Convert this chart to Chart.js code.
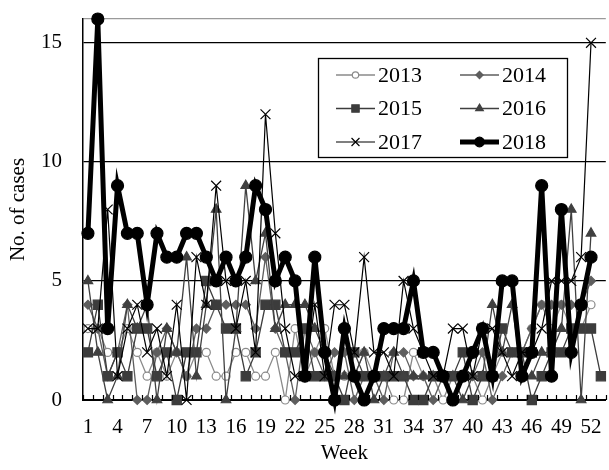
<!DOCTYPE html>
<html>
<head>
<meta charset="utf-8">
<script src="https://cdn.jsdelivr.net/npm/chart.js@4/dist/chart.umd.min.js"></script>
<style>
  html, body { margin: 0; padding: 0; background: #fff; overflow: hidden; }
  #wrap { position: relative; width: 614px; height: 470px; }
</style>
</head>
<body>
<div id="wrap"><canvas id="cases"></canvas></div>
<script>
// weekly case counts, 2013–2018

const weeks = ['1','2','3','4','5','6','7','8','9','10','11','12','13','14','15','16','17','18',
  '19','20','21','22','23','24','25','26','27','28','29','30','31','32','33','34','35','36',
  '37','38','39','40','41','42','43','44','45','46','47','48','49','50','51','52','53'];
const weekTicks = ['1','4','7','10','13','16','19','22','25','28','31','34','37','40','43','46','49','52'];
const yTicks = [0, 5, 10, 15];
const yMax = 16;

const cases2013 = [3,3,2,2,3,2,1,2,1,2,1,2,2,1,1,2,2,1,1,2,0,3,1,2,3,1,1,1,2,1,1,0,0,2,1,1,0,1,1,1,0,1,2,2,2,3,4,3,4,3,3,4,null];
const cases2014 = [4,3,1,2,4,0,0,2,3,2,1,3,3,4,4,4,4,3,6,3,2,0,3,2,1,2,2,0,1,1,0,2,2,1,1,0,1,0,1,1,2,0,1,2,2,3,4,4,4,4,4,5,null];
const cases2015 = [2,4,1,2,1,3,3,1,2,0,2,2,5,4,3,3,1,2,4,4,2,2,3,1,1,1,0,2,1,1,1,1,1,0,0,1,1,1,2,0,1,1,3,2,2,0,1,2,2,3,3,3,1];
const cases2016 = [5,2,0,1,4,3,4,0,3,2,6,1,4,8,0,3,9,5,7,3,4,4,4,3,2,1,1,1,2,0,1,2,1,1,1,1,1,1,0,1,1,4,2,4,1,1,2,2,3,8,0,7,null];
const cases2017 = [3,3,8,1,3,4,2,3,1,4,0,6,4,9,5,3,5,2,12,7,3,1,1,4,1,4,4,2,6,2,2,1,5,3,2,1,1,3,3,1,3,3,2,1,2,2,3,5,5,5,6,15,null];
const cases2018 = [7,16,3,9,7,7,4,7,6,6,7,7,6,5,6,5,6,9,8,5,6,5,1,6,2,0,3,1,0,1,3,3,3,5,2,2,1,0,1,2,3,1,5,5,1,2,9,1,8,2,4,6,null];

const FONT = '"Liberation Serif", "Times New Roman", serif';

const series = [
  { label:'2013', data:cases2013, color:'#8a8a8a', fill:'#ffffff', style:'circle',    r:4,   lw:1.3, order:6 },
  { label:'2014', data:cases2014, color:'#5e5e5e', fill:'#5e5e5e', style:'rectRot',   r:4.5, lw:1.3, order:5 },
  { label:'2015', data:cases2015, color:'#3c3c3c', fill:'#3c3c3c', style:'rect',      r:6.5, lw:1.3, order:4 },
  { label:'2016', data:cases2016, color:'#404040', fill:'#404040', style:'triangle',  r:5.5, lw:1.3, order:3 },
  { label:'2017', data:cases2017, color:'#000000', fill:'#000000', style:'crossRot',  r:7,   lw:1.2, order:2 },
  { label:'2018', data:cases2018, color:'#000000', fill:'#000000', style:'circle',    r:6,   lw:5,   order:1 }
];

// Excel-style tick marks pointing up into the plot, at category boundaries
const innerTicks = {
  id: 'innerTicks',
  afterDraw(chart) {
    const { ctx, chartArea: a } = chart;
    const n = weeks.length, step = a.width / n;
    ctx.save();
    ctx.strokeStyle = '#000';
    ctx.lineWidth = 1.2;
    ctx.beginPath();
    for (let i = 0; i <= n; i++) {
      const x = Math.round(a.left + i * step) + 0.5;
      ctx.moveTo(x, a.bottom);
      ctx.lineTo(x, a.bottom - 5);
    }
    ctx.stroke();
    ctx.restore();
  }
};

// boxed two-column legend inside the plot
const boxLegend = {
  id: 'boxLegend',
  afterDraw(chart) {
    const { ctx, chartArea: a } = chart;
    const x0 = a.left + 235, y0 = a.top + 39, w = 249, h = 99;
    ctx.save();
    ctx.fillStyle = '#fff';
    ctx.fillRect(x0, y0, w, h);
    ctx.strokeStyle = '#000';
    ctx.lineWidth = 1.3;
    ctx.strokeRect(x0 + 0.5, y0 + 0.5, w, h);
    series.forEach((s, i) => {
      const col = i % 2, row = Math.floor(i / 2);
      const lx = x0 + 18 + col * 124, ly = y0 + 17 + row * 33.5;
      ctx.strokeStyle = s.color;
      ctx.lineWidth = s.lw;
      ctx.beginPath();
      ctx.moveTo(lx, ly);
      ctx.lineTo(lx + 39, ly);
      ctx.stroke();
      ctx.fillStyle = s.fill;
      ctx.strokeStyle = s.color;
      ctx.lineWidth = 1.2;
      if (Chart.helpers && Chart.helpers.drawPoint) {
        Chart.helpers.drawPoint(ctx, { pointStyle: s.style, radius: s.r * 0.8, rotation: 0, borderWidth: 1.2 }, lx + 19.5, ly);
      }
      ctx.fillStyle = '#000';
      ctx.font = '22px ' + FONT;
      ctx.textBaseline = 'middle';
      ctx.textAlign = 'left';
      ctx.fillText(s.label, lx + 42, ly + 1);
    });
    ctx.restore();
  }
};

new Chart(document.getElementById('cases'), {
  type: 'line',
  data: {
    labels: weeks,
    datasets: series.map(s => ({
      label: s.label,
      data: s.data,
      order: s.order,
      borderColor: s.color,
      backgroundColor: s.fill,
      borderWidth: s.lw,
      pointStyle: s.style,
      pointRadius: s.r,
      pointBackgroundColor: s.fill,
      pointBorderColor: s.color,
      pointBorderWidth: 1.2,
      tension: 0,
      spanGaps: false,
      clip: false
    }))
  },
  options: {
    responsive: true,
    maintainAspectRatio: false,
    animation: false,
    devicePixelRatio: 1,
    layout: { padding: { top: 19, right: 0, left: 0, bottom: 0 } },
    plugins: {
      legend: { display: false },
      tooltip: { enabled: false }
    },
    scales: {
      x: {
        offset: true,
        afterFit: s => { s.height = 70; s.paddingLeft = 0; s.paddingRight = 0; },
        grid: { display: true, drawOnChartArea: false, drawTicks: false },
        border: { display: true, color: '#000', width: 2 },
        ticks: {
          autoSkip: false, maxRotation: 0, minRotation: 0, padding: 15,
          color: '#000', font: { family: FONT, size: 21 },
          callback: (v, i) => weekTicks.includes(weeks[i]) ? weeks[i] : ''
        },
        title: {
          display: true, text: 'Week', color: '#000',
          font: { family: FONT, size: 21 }, padding: { top: 2, bottom: 4 }
        }
      },
      y: {
        min: 0, max: yMax,
        afterFit: s => { s.width = 83; s.paddingTop = 0; s.paddingBottom = 0; },
        afterBuildTicks: s => { s.ticks = yTicks.concat([yMax]).map(v => ({ value: v })); },
        grid: {
          drawTicks: false,
          lineWidth: 1.2,
          color: ctx => ctx.tick.value === yMax ? '#9a9a9a' : (ctx.tick.value === 0 ? 'rgba(0,0,0,0)' : '#000')
        },
        border: { display: true, color: '#000', width: 1.5 },
        ticks: {
          padding: 21, color: '#000',
          font: { family: FONT, size: 21 },
          callback: v => yTicks.includes(v) ? String(v) : ''
        },
        title: {
          display: true, text: 'No. of cases', color: '#000',
          font: { family: FONT, size: 21 }, padding: { top: 6, bottom: 0 }
        }
      }
    }
  },
  plugins: [innerTicks, boxLegend]
});
</script>
</body>
</html>
